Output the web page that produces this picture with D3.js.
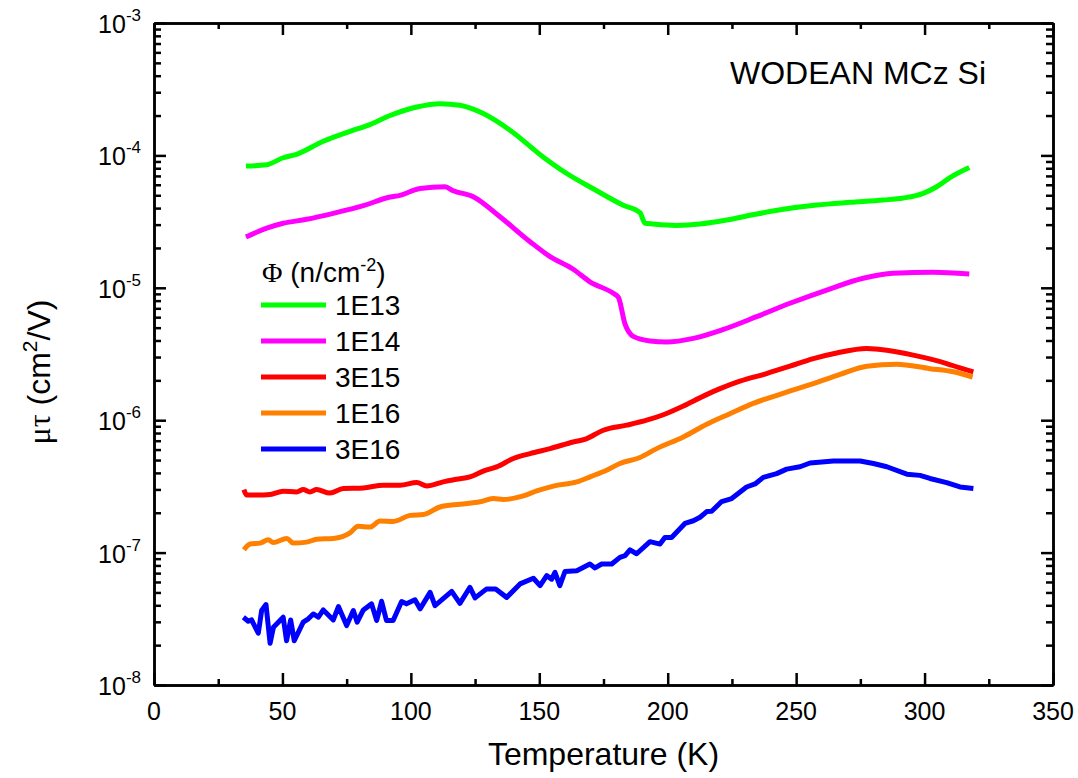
<!DOCTYPE html>
<html>
<head>
<meta charset="utf-8">
<script src="https://cdn.jsdelivr.net/npm/d3@7/dist/d3.min.js"></script>
<style>
  html, body { margin: 0; padding: 0; background: #fff; }
  svg { display: block; font-family: Arial, "Liberation Sans", sans-serif; }
</style>
</head>
<body>
<svg id="chart" width="1078" height="778"></svg>
<script>
// Mobility-lifetime product vs temperature for WODEAN MCz silicon at several fluences

const labels = ["1E13", "1E14", "3E15", "1E16", "3E16"];
const colors = ["#00ff00", "#ff00ff", "#ff0000", "#ff8000", "#0000ff"];

const tempA = [35.8, 43.9, 50.3, 55.5, 65.9, 76.3, 84.1, 91.9, 102.3, 111.3, 119.1, 128.2, 138.6, 151.6, 160.7, 171, 182.7, 189.2, 191.2, 203.5, 212.6, 223, 234.6, 245, 258, 271, 283.9, 291.7, 299.5, 304.7, 309.9, 317.4];
const muTauA = [8.3e-5, 8.5e-5, 9.6e-5, 1.02e-4, 1.28e-4, 1.52e-4, 1.71e-4, 2.0e-4, 2.32e-4, 2.46e-4, 2.39e-4, 2.07e-4, 1.55e-4, 9.7e-5, 7.3e-5, 5.6e-5, 4.2e-5, 3.69e-5, 3.07e-5, 2.96e-5, 3.03e-5, 3.25e-5, 3.61e-5, 3.92e-5, 4.22e-5, 4.42e-5, 4.6e-5, 4.77e-5, 5.17e-5, 5.8e-5, 6.8e-5, 8.1e-5];

const tempB = [35.8, 43.9, 50.3, 59.4, 69.8, 81.5, 91.9, 95.8, 103.6, 113.3, 116.5, 124.3, 134.7, 146.4, 154.2, 163.2, 169.7, 178.8, 180.8, 183.3, 186.6, 193.1, 199.6, 210, 221.7, 234.6, 247.6, 261.9, 276.1, 287.8, 303.4, 317.4];
const muTauB = [2.42e-5, 2.82e-5, 3.07e-5, 3.29e-5, 3.65e-5, 4.17e-5, 4.85e-5, 4.99e-5, 5.63e-5, 5.79e-5, 5.41e-5, 4.88e-5, 3.44e-5, 2.23e-5, 1.72e-5, 1.38e-5, 1.11e-5, 9.08e-6, 8.47e-6, 5.39e-6, 4.3e-6, 3.97e-6, 3.9e-6, 4.15e-6, 4.85e-6, 6.05e-6, 7.64e-6, 9.62e-6, 1.18e-5, 1.29e-5, 1.31e-5, 1.27e-5];

const tempC = [35, 36.1, 40, 45.2, 50.3, 55.5, 58.1, 60.7, 63.3, 68.5, 73.7, 81.5, 89.3, 95.8, 102.3, 106.2, 112.6, 117.8, 123, 128.2, 133.4, 139.9, 146.4, 154.2, 163.2, 168, 174.9, 184, 191.8, 198.3, 206.1, 213.9, 220.4, 228.1, 238.5, 247.6, 256.7, 265.8, 277.5, 285.3, 295.6, 308.6, 313.8, 319];
const muTauC = [2.99e-7, 2.72e-7, 2.72e-7, 2.75e-7, 2.91e-7, 2.87e-7, 2.99e-7, 2.87e-7, 2.99e-7, 2.82e-7, 3.05e-7, 3.08e-7, 3.23e-7, 3.23e-7, 3.38e-7, 3.18e-7, 3.42e-7, 3.58e-7, 3.73e-7, 4.12e-7, 4.44e-7, 5.14e-7, 5.6e-7, 6.1e-7, 6.85e-7, 7.2e-7, 8.4e-7, 9.17e-7, 1.0e-6, 1.1e-6, 1.28e-6, 1.52e-6, 1.73e-6, 1.97e-6, 2.25e-6, 2.56e-6, 2.92e-6, 3.22e-6, 3.48e-6, 3.38e-6, 3.1e-6, 2.68e-6, 2.48e-6, 2.32e-6];

const tempD = [35, 37.4, 41.3, 44.5, 46.4, 51.7, 54.2, 59.4, 63.3, 69.8, 76.3, 79.5, 84.1, 88, 93.2, 99.7, 104.9, 111.3, 119.1, 126.9, 132.1, 136, 143.8, 149, 155.5, 164.6, 170, 176.2, 181.4, 189.2, 195.7, 206.1, 215.2, 224.2, 233.3, 243.7, 256.7, 267.1, 277.5, 289.1, 302.1, 311.2, 318.7];
const muTauD = [1.05e-7, 1.16e-7, 1.18e-7, 1.25e-7, 1.19e-7, 1.28e-7, 1.18e-7, 1.2e-7, 1.26e-7, 1.28e-7, 1.41e-7, 1.58e-7, 1.56e-7, 1.73e-7, 1.72e-7, 1.91e-7, 1.94e-7, 2.21e-7, 2.32e-7, 2.42e-7, 2.56e-7, 2.52e-7, 2.68e-7, 2.92e-7, 3.18e-7, 3.42e-7, 3.75e-7, 4.19e-7, 4.71e-7, 5.23e-7, 6.1e-7, 7.48e-7, 9.33e-7, 1.12e-6, 1.34e-6, 1.57e-6, 1.89e-6, 2.22e-6, 2.56e-6, 2.65e-6, 2.45e-6, 2.32e-6, 2.12e-6];

const tempE = [34.8, 36.7, 38, 40.6, 41.9, 43.6, 45.2, 46.5, 50.3, 51.6, 53.2, 54.6, 58.1, 60.1, 62, 64, 65.9, 69.8, 71.8, 75, 77.6, 79.1, 81.5, 84.7, 86.7, 88.6, 90.5, 93.1, 96.4, 98.3, 101.6, 103.6, 107.5, 109.4, 115.9, 119.1, 123, 125, 129.5, 133, 137.3, 142.5, 147.7, 150.3, 152.9, 154.8, 156.1, 158, 160, 164.6, 169.7, 171.7, 174.3, 178.2, 181.4, 183.4, 185.3, 187.9, 193.1, 197, 198.9, 201.5, 206.7, 210, 212.6, 215.2, 217.1, 221, 224.9, 230.7, 234, 237.2, 242.4, 246.3, 251.5, 255.4, 264.5, 274.9, 280.1, 285.3, 293.1, 298.2, 302.1, 308.6, 313.8, 319];
const muTauE = [3.25e-8, 3.03e-8, 3.1e-8, 2.46e-8, 3.65e-8, 4.05e-8, 2.07e-8, 2.73e-8, 3.25e-8, 2.16e-8, 3.1e-8, 2.16e-8, 2.98e-8, 3.16e-8, 3.44e-8, 3.25e-8, 3.69e-8, 3.1e-8, 3.91e-8, 2.81e-8, 3.65e-8, 2.98e-8, 3.69e-8, 4.1e-8, 3.07e-8, 4.29e-8, 3.07e-8, 3.07e-8, 4.27e-8, 4.1e-8, 4.4e-8, 3.76e-8, 5.01e-8, 3.98e-8, 5.1e-8, 4.14e-8, 5.47e-8, 4.55e-8, 5.32e-8, 5.3e-8, 4.59e-8, 5.8e-8, 6.4e-8, 5.63e-8, 6.7e-8, 6.3e-8, 7.1e-8, 5.63e-8, 7.2e-8, 7.3e-8, 8.2e-8, 7.66e-8, 8.2e-8, 8.2e-8, 9.2e-8, 9.5e-8, 1.05e-7, 9.8e-8, 1.21e-7, 1.16e-7, 1.3e-7, 1.3e-7, 1.66e-7, 1.74e-7, 1.85e-7, 2.04e-7, 2.05e-7, 2.43e-7, 2.56e-7, 3.13e-7, 3.3e-7, 3.7e-7, 3.95e-7, 4.27e-7, 4.45e-7, 4.75e-7, 4.92e-7, 4.92e-7, 4.71e-7, 4.45e-7, 3.91e-7, 3.83e-7, 3.63e-7, 3.38e-7, 3.13e-7, 3.05e-7];

const xMajorTicks = [0, 50, 100, 150, 200, 250, 300, 350];
const xMinorTicks = [25, 75, 125, 175, 225, 275, 325];
const yDecades = [-8, -7, -6, -5, -4, -3];

const seriesTemps = [tempA, tempB, tempC, tempD, tempE];
const seriesMuTau = [muTauA, muTauB, muTauC, muTauD, muTauE];

const svg = d3.select("#chart");
const plotLeft = 154, plotRight = 1053, plotTop = 23, plotBottom = 685;

const x = d3.scaleLinear().domain([0, 350]).range([plotLeft, plotRight]);
const y = d3.scaleLog().domain([1e-8, 1e-3]).range([plotBottom, plotTop]);

// minor log ticks 2..9 within each decade
const yMinor = [];
yDecades.slice(0, -1).forEach(e => {
  for (let m = 2; m <= 9; m++) yMinor.push(m * Math.pow(10, e));
});
const yMajor = yDecades.map(e => Math.pow(10, e));

// curves
const line = d3.line()
  .x(d => x(d[0]))
  .y(d => y(d[1]));

const plot = svg.append("g");
seriesTemps.forEach((ts, i) => {
  const pts = ts.map((t, j) => [t, seriesMuTau[i][j]]);
  plot.append("path")
    .datum(pts)
    .attr("fill", "none")
    .attr("stroke", colors[i])
    .attr("stroke-width", 5)
    .attr("stroke-linejoin", "round")
    .attr("stroke-linecap", "butt")
    .attr("d", line.curve(i === 4 ? d3.curveLinear : d3.curveMonotoneX));
});

// axes: ticks point inward on all four sides
function styleAxis(g) {
  g.selectAll("path.domain").attr("stroke", "#000").attr("stroke-width", 2.5);
  g.selectAll(".tick line").attr("stroke", "#000").attr("stroke-width", 2.5);
  g.selectAll(".tick text").remove();
}

svg.append("g").attr("transform", `translate(0,${plotBottom})`)
  .call(d3.axisBottom(x).tickValues(xMajorTicks).tickSize(-12).tickSizeOuter(0)).call(styleAxis);
svg.append("g").attr("transform", `translate(0,${plotBottom})`)
  .call(d3.axisBottom(x).tickValues(xMinorTicks).tickSize(-6).tickSizeOuter(0)).call(styleAxis);
svg.append("g").attr("transform", `translate(0,${plotTop})`)
  .call(d3.axisTop(x).tickValues(xMajorTicks).tickSize(-12).tickSizeOuter(0)).call(styleAxis);
svg.append("g").attr("transform", `translate(0,${plotTop})`)
  .call(d3.axisTop(x).tickValues(xMinorTicks).tickSize(-6).tickSizeOuter(0)).call(styleAxis);

svg.append("g").attr("transform", `translate(${plotLeft},0)`)
  .call(d3.axisLeft(y).tickValues(yMajor).tickSize(-12).tickSizeOuter(0)).call(styleAxis);
svg.append("g").attr("transform", `translate(${plotLeft},0)`)
  .call(d3.axisLeft(y).tickValues(yMinor).tickSize(-7).tickSizeOuter(0)).call(styleAxis);
svg.append("g").attr("transform", `translate(${plotRight},0)`)
  .call(d3.axisRight(y).tickValues(yMajor).tickSize(-12).tickSizeOuter(0)).call(styleAxis);
svg.append("g").attr("transform", `translate(${plotRight},0)`)
  .call(d3.axisRight(y).tickValues(yMinor).tickSize(-7).tickSizeOuter(0)).call(styleAxis);

// x tick labels
svg.append("g").selectAll("text").data(xMajorTicks).join("text")
  .attr("x", d => x(d)).attr("y", 720)
  .attr("text-anchor", "middle")
  .attr("font-size", 25)
  .text(d => d);

// y tick labels 10^n
const yl = svg.append("g").selectAll("text").data(yDecades).join("text")
  .attr("x", 141).attr("y", d => y(Math.pow(10, d)) + 10)
  .attr("text-anchor", "end")
  .attr("font-size", 25);
yl.append("tspan").text("10");
yl.append("tspan").attr("font-size", 17).attr("dy", -12).text(d => d);

// axis titles
svg.append("text")
  .attr("x", (plotLeft + plotRight) / 2).attr("y", 765)
  .attr("text-anchor", "middle")
  .attr("font-size", 32)
  .text("Temperature (K)");

const yt = svg.append("text")
  .attr("transform", `translate(50,${(plotTop + plotBottom) / 2 + 18}) rotate(-90)`)
  .attr("text-anchor", "middle")
  .attr("font-size", 32);
yt.append("tspan").attr("font-family", "'Liberation Serif', 'DejaVu Serif', serif").text("μτ");
yt.append("tspan").text(" (cm");
yt.append("tspan").attr("font-size", 21).attr("dy", -13).text("2");
yt.append("tspan").attr("dy", 13).text("/V)");

// sample annotation
svg.append("text")
  .attr("x", 986).attr("y", 84)
  .attr("text-anchor", "end")
  .attr("font-size", 32)
  .text("WODEAN MCz Si");

// legend
const legend = svg.append("g");
const lt = legend.append("text").attr("x", 262).attr("y", 282).attr("font-size", 28);
lt.append("tspan").attr("font-family", "'Liberation Serif', 'DejaVu Serif', serif").text("Φ");
lt.append("tspan").text(" (n/cm");
lt.append("tspan").attr("font-size", 18).attr("dy", -11).text("-2");
lt.append("tspan").attr("dy", 11).text(")");

labels.forEach((lab, i) => {
  const ly = 305 + i * 36;
  legend.append("line")
    .attr("x1", 261).attr("x2", 326)
    .attr("y1", ly).attr("y2", ly)
    .attr("stroke", colors[i]).attr("stroke-width", 5);
  legend.append("text")
    .attr("x", 335).attr("y", ly + 10)
    .attr("font-size", 28)
    .text(lab);
});
</script>
</body>
</html>
